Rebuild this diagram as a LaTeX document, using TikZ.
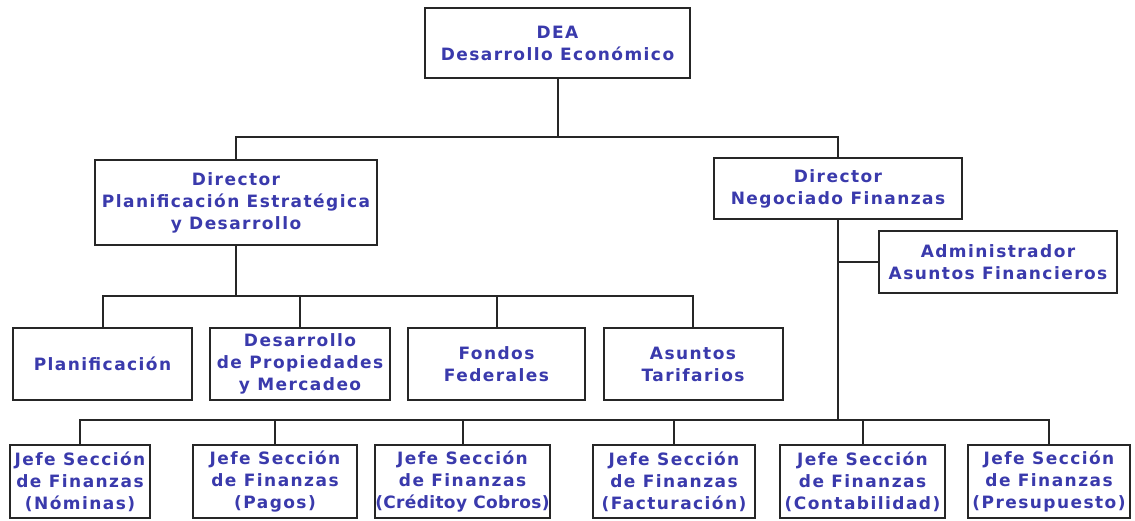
\documentclass[tikz,border=0pt]{standalone}
\usepackage{fontspec}
\setmainfont{DejaVu Sans}
\newfontfamily\boxfont{DejaVu Sans}[LetterSpace=8.5]
\newfontfamily\boxfonttight{DejaVu Sans}[LetterSpace=2]
\definecolor{txt}{RGB}{58,58,172}
\begin{document}
\begin{tikzpicture}[x=1pt,y=-1pt,
  box/.style={draw=black!85, line width=2pt, fill=white, align=center, inner sep=0pt,
    text=txt, font=\boxfont\bfseries\fontsize{17}{22}\selectfont},
  conn/.style={draw=black!85, line width=2pt}]
\useasboundingbox (0,0) rectangle (1135,521);
\node[box, minimum width=265, minimum height=70] (dea) at (557.5,43) {DEA\\Desarrollo Económico};
\node[box, minimum width=282, minimum height=85] (dpe) at (236,202.5) {Director\\Planificación Estratégica\\y Desarrollo};
\node[box, minimum width=248, minimum height=61] (dnf) at (838,188.5) {Director\\Negociado Finanzas};
\node[box, minimum width=238, minimum height=62] (adm) at (998,262) {Administrador\\Asuntos Financieros};
\node[box, minimum width=179, minimum height=72] (plan) at (102.5,364) {Planificación};
\node[box, minimum width=180, minimum height=72] (desa) at (300,364) {Desarrollo\\de Propiedades\\y Mercadeo};
\node[box, minimum width=177, minimum height=72] (fond) at (496.5,364) {Fondos\\Federales};
\node[box, minimum width=179, minimum height=72] (asun) at (693,364) {Asuntos\\Tarifarios};
\node[box, minimum width=140, minimum height=73] (nom) at (80,481.5) {Jefe Sección\\de Finanzas\\(Nóminas)};
\node[box, minimum width=164, minimum height=73] (pag) at (275,481.5) {Jefe Sección\\de Finanzas\\(Pagos)};
\node[box, minimum width=171, minimum height=73] (cre) at (462.5,481.5) {Jefe Sección\\de Finanzas\\{\boxfonttight\bfseries(Créditoy Cobros)}};
\node[box, minimum width=162, minimum height=73] (fac) at (674,481.5) {Jefe Sección\\de Finanzas\\(Facturación)};
\node[box, minimum width=165, minimum height=73] (con) at (862.5,481.5) {Jefe Sección\\de Finanzas\\(Contabilidad)};
\node[box, minimum width=162, minimum height=73] (pre) at (1049,481.5) {Jefe Sección\\de Finanzas\\(Presupuesto)};
\coordinate (b1) at (0,137);
\coordinate (b2) at (0,296);
\coordinate (b3) at (0,420);
\draw[conn] (dea.south) -- (dea.south |- b1);
\draw[conn] (dpe.north) -- (dpe.north |- b1) -- (dnf.north |- b1) -- (dnf.north);
\draw[conn] (dpe.south) -- (dpe.south |- b2);
\draw[conn] (plan.north) -- (plan.north |- b2) -- (asun.north |- b2) -- (asun.north);
\draw[conn] (desa.north) -- (desa.north |- b2);
\draw[conn] (fond.north) -- (fond.north |- b2);
\draw[conn] (dnf.south) -- (dnf.south |- b3);
\draw[conn] (dnf.south |- adm.west) -- (adm.west);
\draw[conn] (nom.north) -- (nom.north |- b3) -- (pre.north |- b3) -- (pre.north);
\foreach \n in {pag,cre,fac,con} \draw[conn] (\n.north) -- (\n.north |- b3);
\end{tikzpicture}
\end{document}
